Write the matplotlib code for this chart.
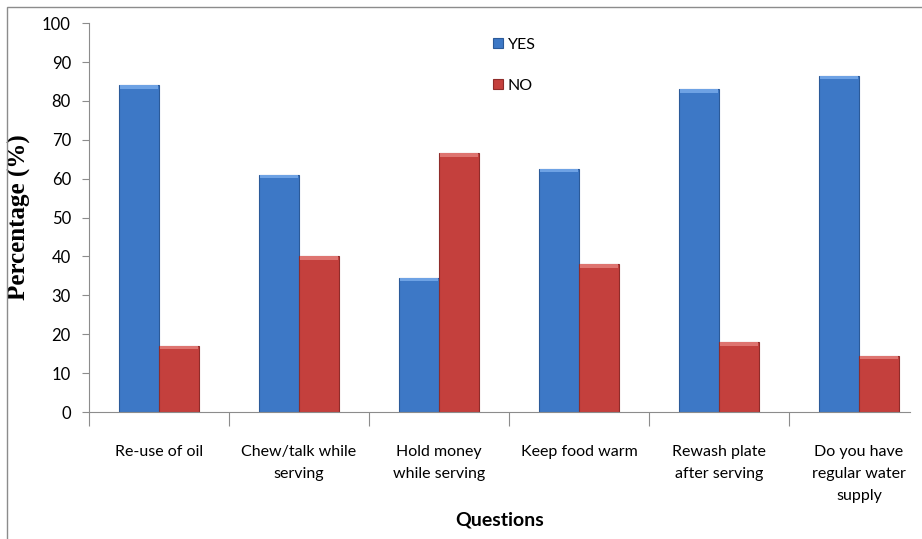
import numpy as np
import matplotlib
matplotlib.use("Agg")
import matplotlib.pyplot as plt
from matplotlib.patches import Rectangle

# data
questions = ["Re-use of oil", "Chew/talk while\nserving", "Hold money\nwhile serving",
             "Keep food warm", "Rewash plate\nafter serving", "Do you have\nregular water\nsupply"]
yes = [84, 61, 34.5, 62.5, 83, 86.5]
no = [17, 40, 66.5, 38, 18, 14.5]

fig = plt.figure(figsize=(9.22, 5.39), dpi=100)
ax = fig.add_axes([0.0965, 0.2356, 0.8905, 0.7214])

# chart frame
fig.patches.append(Rectangle((0.008, -0.01), 1.2, 0.997, transform=fig.transFigure,
                             fill=False, edgecolor="#8c8c8c", linewidth=1.0))

x = np.arange(len(questions))
w = 40 / 140
b1 = ax.bar(x - w / 2, yes, w, color="#3d78c6", edgecolor="#2b5a99", linewidth=0.8, label="YES")
b2 = ax.bar(x + w / 2, no, w, color="#c4403d", edgecolor="#8f2c2a", linewidth=0.8, label="NO")

# light bevel on top of each bar
for bars, c in ((b1, "#6ea2e4"), (b2, "#de7470")):
    for r in bars:
        ax.add_patch(Rectangle((r.get_x() + 0.01, r.get_height() - 0.9), r.get_width() - 0.02, 0.9,
                               color=c, linewidth=0, zorder=3))

ax.set_xlim(-0.5, len(questions) - 0.636)
ax.set_ylim(0, 100)
ax.set_yticks(range(0, 101, 10))

ax.set_xticks(np.arange(len(questions)) - 0.5, minor=False)
ax.set_xticklabels([])
ax.set_xticks(x, minor=True)
ax.set_xticklabels(questions, minor=True, fontsize=11.5, family="Lato", linespacing=1.7,
                   va="top")
ax.tick_params(axis="x", which="major", length=10, color="#8c8c8c")
ax.tick_params(axis="x", which="minor", length=0, pad=24)
ax.tick_params(axis="y", length=5, color="#8c8c8c", labelsize=12, pad=8)
for t in ax.get_yticklabels():
    t.set_family("Lato")

for s in ("top", "right"):
    ax.spines[s].set_visible(False)
for s in ("left", "bottom"):
    ax.spines[s].set_color("#8c8c8c")

ax.set_ylabel("Percentage (%)", family="Liberation Serif", fontweight="bold", fontsize=18,
              labelpad=8)
ax.set_xlabel("Questions", family="Lato", fontweight="bold", fontsize=14, labelpad=6)

ax.legend(loc="upper left", bbox_to_anchor=(0.475, 1.0), frameon=False,
          handlelength=0.6, handleheight=0.6, labelspacing=1.7, handletextpad=0.3,
          prop={"family": "Lato", "size": 11.5})

fig.savefig("out.png", dpi=100)
